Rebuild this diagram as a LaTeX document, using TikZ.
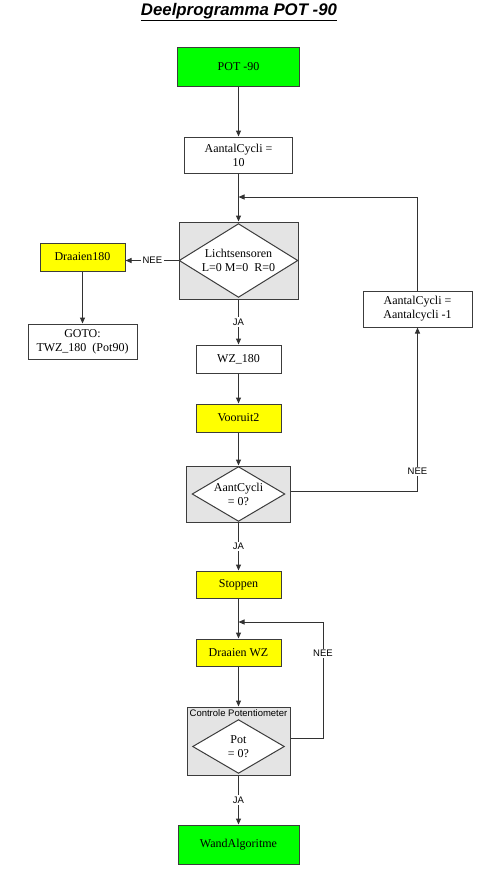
\documentclass[tikz,border=0pt]{standalone}
\usepackage{fontspec}
\setmainfont{Liberation Serif}
\newfontfamily\arialfont{Liberation Sans}
\usetikzlibrary{arrows.meta}
\definecolor{bgreen}{RGB}{0,255,0}
\definecolor{byellow}{RGB}{255,255,0}
\definecolor{lgray}{RGB}{228,228,228}
\definecolor{edge}{RGB}{60,60,60}
\definecolor{conn}{RGB}{50,50,50}
\tikzset{
  box/.style={draw=edge,line width=1pt,rectangle,inner sep=0pt,align=center,font=\fontsize{12}{14}\selectfont},
  greenbox/.style={box,fill=bgreen},
  yellowbox/.style={box,fill=byellow},
  whitebox/.style={box,fill=white},
  graybox/.style={box,fill=lgray},
  diabound/.style={rectangle,inner sep=0pt},
  diashape/.style={draw=edge,line width=1pt,fill=white,line join=miter},
  diatext/.style={inner sep=0pt,align=center,font=\fontsize{12}{14}\selectfont},
  arr/.style={draw=conn,line width=1pt,-{Triangle[length=6pt,width=5pt]}},
  lbl/.style={fill=white,inner sep=1.5pt,font=\arialfont\fontsize{9.5}{11}\selectfont},
}
\begin{document}
\begin{tikzpicture}[x=1pt,y=-1pt]
\useasboundingbox (0,0) rectangle (500,871);
\node[font=\arialfont\bfseries\itshape\fontsize{16.8}{19}\selectfont,inner sep=0pt] (title) at (239,12) {\underline{Deelprogramma POT -90}};

\node[greenbox,minimum width=122pt,minimum height=39pt] (start) at (238.5,66.5) {POT -90};
\node[whitebox,minimum width=108pt,minimum height=36pt] (cyc) at (238.5,155) {AantalCycli =\\10};
\coordinate (j1) at (238.5,197);

\node[graybox,minimum width=119pt,minimum height=77pt] (r1) at (238.5,260.5) {};
\node[diabound,minimum width=118pt,minimum height=73pt] (d1) at (238.5,260.5) {};
\filldraw[diashape] (d1.north) -- (d1.east) -- (d1.south) -- (d1.west) -- cycle;
\node[diatext] (t1) at (d1.center) {Lichtsensoren\\L=0 M=0\ \ R=0};

\node[yellowbox,minimum width=85pt,minimum height=28pt] (draa) at (82.5,257) {Draaien180};
\node[whitebox,minimum width=109pt,minimum height=35pt] (goto) at (82.5,341.5) {GOTO:\\TWZ\_180\ \ (Pot90)};

\node[whitebox,minimum width=85pt,minimum height=28pt] (wz) at (238.5,359) {WZ\_180};
\node[whitebox,minimum width=109pt,minimum height=36pt] (acm) at (417.5,309) {AantalCycli =\\Aantalcycli -1};

\node[yellowbox,minimum width=85pt,minimum height=28pt] (voor) at (238.5,418) {Vooruit2};

\node[graybox,minimum width=104pt,minimum height=56pt] (r2) at (238.5,494) {};
\node[diabound,minimum width=92pt,minimum height=54pt] (d2) at (238.5,494) {};
\filldraw[diashape] (d2.north) -- (d2.east) -- (d2.south) -- (d2.west) -- cycle;
\node[diatext] (t2) at (d2.center) {AantCycli\\= 0?};

\node[yellowbox,minimum width=85pt,minimum height=27pt] (stop) at (238.5,584.5) {Stoppen};
\coordinate (j2) at (238.5,622);
\node[yellowbox,minimum width=85pt,minimum height=27pt] (drwz) at (238.5,652.5) {Draaien WZ};

\node[graybox,minimum width=103pt,minimum height=68pt] (r3) at (238.5,741) {};
\node[font=\arialfont\fontsize{9.5}{11}\selectfont,inner sep=0pt,anchor=north] (r3t) at (238.5,709) {Controle Potentiometer};
\node[diabound,minimum width=91pt,minimum height=53pt] (d3) at (238.5,746.5) {};
\filldraw[diashape] (d3.north) -- (d3.east) -- (d3.south) -- (d3.west) -- cycle;
\node[diatext] (t3) at (d3.center) {Pot\\= 0?};

\node[greenbox,minimum width=121pt,minimum height=39pt] (wand) at (238.5,844.5) {WandAlgoritme};

\coordinate (c3) at (323,738);
\coordinate (c2) at (417.5,491);

% connectors
\draw[arr] (start.south) -- (cyc.north);
\draw[arr] (cyc.south) -- (r1.north);
\draw[arr] (acm.north) |- (j1);
\draw[arr] (d1.west) -- node[lbl,pos=0.5]{NEE} (d1.west -| draa.east);
\draw[arr] (draa.south) -- (goto.north);
\draw[arr] (r1.south) -- node[lbl]{JA} (wz.north);
\draw[arr] (wz.south) -- (voor.north);
\draw[arr] (voor.south) -- (r2.north);
\draw[arr] (c2 -| r2.east) -- (c2) -- node[lbl,pos=0.12]{NEE} (c2 |- acm.south);
\draw[arr] (r2.south) -- node[lbl]{JA} (stop.north);
\draw[arr] (stop.south) -- (drwz.north);
\draw[arr] (drwz.south) -- (r3.north);
\draw[arr] (c3 -| r3.east) -- (c3) -- node[lbl,pos=0.73]{NEE} (c3 |- j2) -- (j2);
\draw[arr] (r3.south) -- node[lbl]{JA} (wand.north);
\end{tikzpicture}
\end{document}
